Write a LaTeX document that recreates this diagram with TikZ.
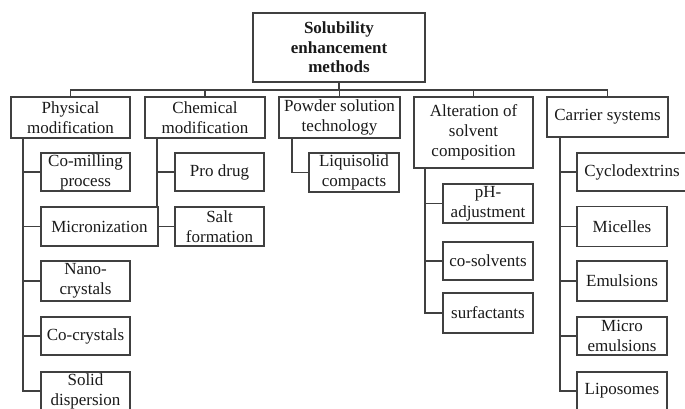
\documentclass[tikz,border=0pt]{standalone}
\usepackage{fontspec}
\setmainfont{Liberation Serif}
\definecolor{linec}{HTML}{404040}
\definecolor{txtc}{HTML}{1A1A1A}
\tikzset{
  box/.style={draw=linec, line width=1.5pt, inner sep=1pt, align=center, text=txtc,
    font=\fontsize{17}{20}\selectfont},
  conn/.style={draw=linec, line width=1.5pt},
}
\begin{document}
\begin{tikzpicture}[x=1pt,y=-1pt]
\fill[white] (0,0) rectangle (685,409);
\clip (0,0) rectangle (685,409);
% top
\node[box, minimum width=172pt, minimum height=69pt, font=\fontsize{17}{19.5}\selectfont\bfseries] (top) at (339,47.5) {Solubility\\enhancement\\methods};
% level 1
\node[box, minimum width=119pt, minimum height=41pt] (P) at (70.5,117.5) {Physical\\modification};
\node[box, minimum width=120pt, minimum height=41pt] (C) at (205,117.5) {Chemical\\modification};
\node[box, minimum width=121pt, minimum height=41pt] (W) at (339.5,117.5) {Powder solution\\technology};
\node[box, minimum width=119pt, minimum height=71pt] (A) at (473.5,132.5) {Alteration of\\solvent\\composition};
\node[box, minimum width=121pt, minimum height=40pt] (R) at (607.5,117) {Carrier systems};
% bus
\coordinate (bus) at (339,90);
\draw[conn] (top.south) -- (bus);
\draw[conn] (bus) -| (P.north);
\draw[conn] (bus) -| (C.north);
\draw[conn] (bus) -| (W.north);
\draw[conn] (bus) -| (A.north);
\draw[conn] (bus) -| (R.north);
% physical children
\node[box, minimum width=89pt, minimum height=38pt] (p1) at (85.5,172) {Co-milling\\process};
\node[box, minimum width=117pt, minimum height=39pt] (p2) at (99.5,226.5) {Micronization};
\node[box, minimum width=89pt, minimum height=40pt] (p3) at (85.5,281) {Nano-\\crystals};
\node[box, minimum width=89pt, minimum height=38pt] (p4) at (85.5,336) {Co-crystals};
\node[box, minimum width=89pt, minimum height=38pt] (p5) at (85.5,391) {Solid\\dispersion};
\coordinate (px) at (23,0);
\draw[conn] (P.south -| px) |- (p5.west);
\foreach \n in {p1,p2,p3,p4} \draw[conn] (\n.west -| px) -- (\n.west);
% chemical children
\node[box, minimum width=89pt, minimum height=38pt] (c1) at (219.5,172) {Pro drug};
\node[box, minimum width=89pt, minimum height=39pt] (c2) at (219.5,226.5) {Salt\\formation};
\coordinate (cx) at (157,0);
\draw[conn] (C.south -| cx) -- (p2.north -| cx);
\draw[conn] (c1.west -| cx) -- (c1.west);
\draw[conn] (p2.east) -- (c2.west);
% powder children
\node[box, minimum width=90pt, minimum height=39pt] (w1) at (354,172.5) {Liquisolid\\compacts};
\coordinate (wx) at (292,0);
\draw[conn] (W.south -| wx) |- (w1.west);
% alteration children
\node[box, minimum width=90pt, minimum height=39pt] (a1) at (488,203.5) {pH-\\adjustment};
\node[box, minimum width=90pt, minimum height=38pt] (a2) at (488,261) {co-solvents};
\node[box, minimum width=90pt, minimum height=40pt] (a3) at (488,313) {surfactants};
\coordinate (ax) at (425,0);
\draw[conn] (A.south -| ax) |- (a3.west);
\foreach \n in {a1,a2} \draw[conn] (\n.west -| ax) -- (\n.west);
% carrier children
\node[box, minimum width=110pt, minimum height=38pt] (r1) at (632,172) {Cyclodextrins};
\node[box, minimum width=90pt, minimum height=40pt] (r2) at (622,226.5) {Micelles};
\node[box, minimum width=90pt, minimum height=40pt] (r3) at (622,281) {Emulsions};
\node[box, minimum width=90pt, minimum height=38pt] (r4) at (622,336) {Micro\\emulsions};
\node[box, minimum width=90pt, minimum height=38pt] (r5) at (622,391) {Liposomes};
\coordinate (rx) at (560,0);
\draw[conn] (R.south -| rx) |- (r5.west);
\foreach \n in {r2,r3,r4} \draw[conn] (\n.west -| rx) -- (\n.west);
\draw[conn] (r1.west -| rx) -- (r1.west);
\end{tikzpicture}
\end{document}
